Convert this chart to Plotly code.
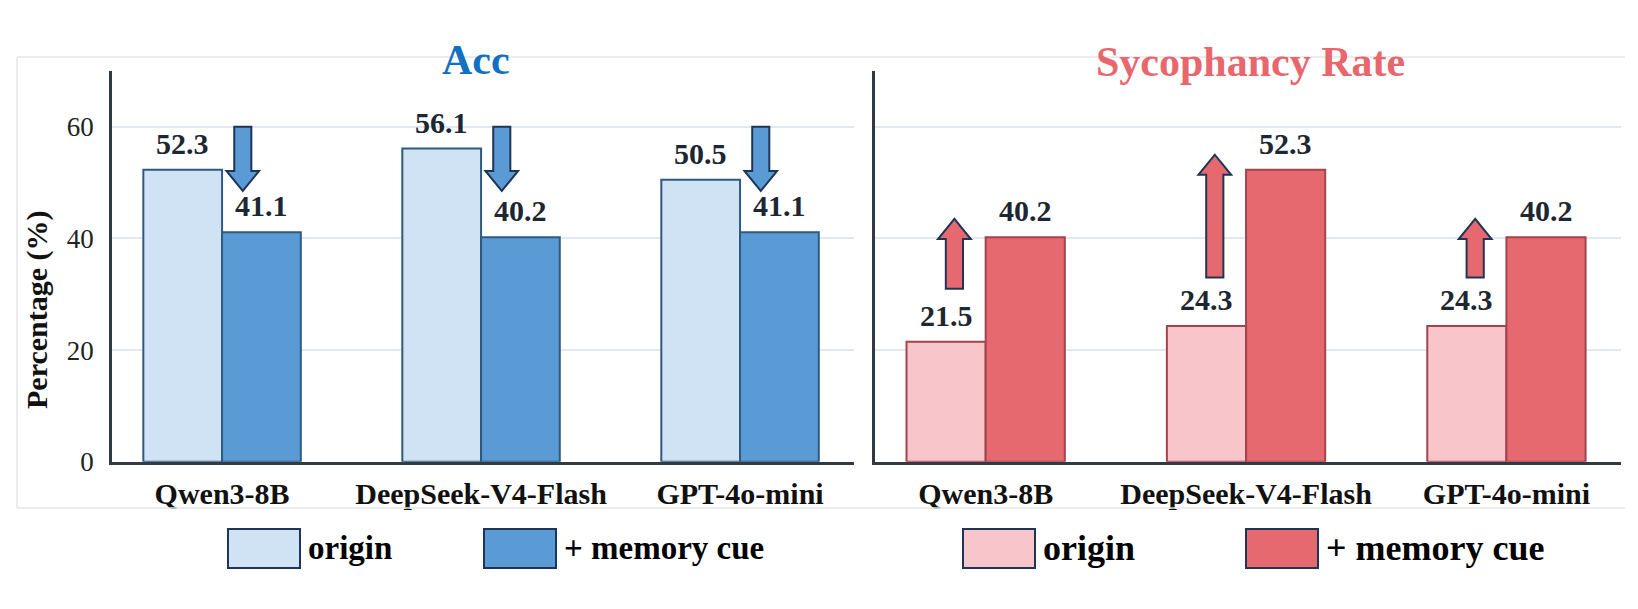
import plotly.graph_objects as go

W, H = 1638, 609

models = ["Qwen3-8B", "DeepSeek-V4-Flash", "GPT-4o-mini"]
acc_origin = [52.3, 56.1, 50.5]
acc_memory = [41.1, 40.2, 41.1]
syc_origin = [21.5, 24.3, 24.3]
syc_memory = [40.2, 52.3, 40.2]
y_ticks = [0, 20, 40, 60]

# decorative change arrows (value units)
acc_arrow_from = [60.0, 60.0, 60.0]
acc_arrow_to = [48.5, 48.5, 48.5]
syc_arrow_from = [31.0, 33.0, 33.0]
syc_arrow_to = [43.5, 55.0, 43.5]

FONT = "Liberation Serif, Times New Roman, serif"
BLUE_L, BLUE_D, BLUE_E = "#CFE3F5", "#5B9BD5", "#2E5A82"
RED_L, RED_D, RED_E = "#F8C6CA", "#E5696F", "#A2444E"
ARROW_E = "#1F3557"
LABEL_C = "#1C2733"

def px(p):
    return p / W

def py(p):
    return 1 - p / H

fig = go.Figure()
fig.add_trace(go.Bar(x=models, y=acc_origin, name="origin", marker=dict(color=BLUE_L, line=dict(color=BLUE_E, width=2)),
                     xaxis="x", yaxis="y", showlegend=False))
fig.add_trace(go.Bar(x=models, y=acc_memory, name="+ memory cue", marker=dict(color=BLUE_D, line=dict(color=BLUE_E, width=2)),
                     xaxis="x", yaxis="y", showlegend=False))
fig.add_trace(go.Bar(x=models, y=syc_origin, name="origin", marker=dict(color=RED_L, line=dict(color=RED_E, width=2)),
                     xaxis="x2", yaxis="y2", showlegend=False))
fig.add_trace(go.Bar(x=models, y=syc_memory, name="+ memory cue", marker=dict(color=RED_D, line=dict(color=RED_E, width=2)),
                     xaxis="x2", yaxis="y2", showlegend=False))

OFF = 0.152
annotations = []
shapes = []

def value_labels(xref, yref, vals, off):
    for i, v in enumerate(vals):
        annotations.append(dict(x=i + off, y=v, xref=xref, yref=yref, text=f"<b>{v}</b>", showarrow=False,
                                xanchor="center", yanchor="bottom", yshift=8,
                                font=dict(family=FONT, size=30, color=LABEL_C)))

value_labels("x", "y", acc_origin, -OFF)
value_labels("x", "y", acc_memory, OFF)
value_labels("x2", "y2", syc_origin, -OFF)
value_labels("x2", "y2", syc_memory, OFF)

SW, HW, HH = 0.033, 0.063, 3.6

def block_arrow(xref, yref, xc, y0, y1, fill):
    d = 1 if y1 > y0 else -1
    yb = y1 - d * HH
    path = (f"M {xc-SW},{y0} L {xc+SW},{y0} L {xc+SW},{yb} L {xc+HW},{yb} L {xc},{y1} "
            f"L {xc-HW},{yb} L {xc-SW},{yb} Z")
    shapes.append(dict(type="path", path=path, xref=xref, yref=yref, fillcolor=fill,
                       line=dict(color=ARROW_E, width=2), layer="above"))

for i in range(3):
    block_arrow("x", "y", i + 0.08, acc_arrow_from[i], acc_arrow_to[i], BLUE_D)
    block_arrow("x2", "y2", i - 0.12, syc_arrow_from[i], syc_arrow_to[i], RED_D)

# outer faint frame
FR = "#E6E6E6"
shapes.append(dict(type="line", xref="paper", yref="paper", x0=px(17), x1=px(1625), y0=py(57), y1=py(57), line=dict(color=FR, width=1.5)))
shapes.append(dict(type="line", xref="paper", yref="paper", x0=px(17), x1=px(1625), y0=py(508), y1=py(508), line=dict(color=FR, width=1.5)))
shapes.append(dict(type="line", xref="paper", yref="paper", x0=px(17), x1=px(17), y0=py(57), y1=py(508), line=dict(color=FR, width=1.5)))

def paper_text(x, y, text, size, color, angle=0, xanchor="center"):
    annotations.append(dict(x=px(x), y=py(y), xref="paper", yref="paper", text=text, showarrow=False,
                            xanchor=xanchor, yanchor="middle", textangle=angle,
                            font=dict(family=FONT, size=size, color=color)))

# titles
paper_text(476, 60, "<b>Acc</b>", 42, "#1170C2")
paper_text(1250, 62, "<b>Sycophancy Rate</b>", 42, "#E8676D")
paper_text(37, 310, "<b>Percentage (%)</b>", 30, "#111111", angle=-90)

# legends
def legend(x_box1, x_box2, fill1, fill2, size):
    for xb, fill, label in [(x_box1, fill1, "origin"), (x_box2, fill2, "+ memory cue")]:
        shapes.append(dict(type="rect", xref="paper", yref="paper", x0=px(xb), x1=px(xb + 72), y0=py(529), y1=py(568),
                           fillcolor=fill, line=dict(color=ARROW_E, width=2)))
        paper_text(xb + 78, 548, f"<b>{label}</b>", size, "#000000", xanchor="left")

legend(228, 484, BLUE_L, BLUE_D, 33)
legend(963, 1246, RED_L, RED_D, 36)

AX = "#2F3A44"
GRID = "#E3E7EE"
xcommon = dict(type="category", range=[-0.425, 2.44], showline=True, linecolor=AX, linewidth=2.5, ticks="",
               showgrid=False, tickfont=dict(family=FONT, size=30, color="#111111", weight="bold"),
               ticklabelstandoff=4, fixedrange=True, automargin=False)
ycommon = dict(range=[0, 70], tickvals=y_ticks, showline=True, linecolor=AX, linewidth=2.5, ticks="",
               showgrid=True, gridcolor=GRID, gridwidth=2, zeroline=False, automargin=False,
               domain=[py(461.7), py(71)], fixedrange=True)

fig.update_layout(
    width=W, height=H, margin=dict(l=0, r=0, t=0, b=0),
    paper_bgcolor="white", plot_bgcolor="white",
    barmode="group", bargap=0.392, bargroupgap=0,
    xaxis=dict(xcommon, domain=[px(112), px(854)], anchor="y"),
    xaxis2=dict(xcommon, domain=[px(875), px(1621)], anchor="y2"),
    yaxis=dict(ycommon, anchor="x", tickfont=dict(family=FONT, size=27, color="#222222"), ticklabelstandoff=10),
    yaxis2=dict(ycommon, anchor="x2", showticklabels=False),
    annotations=annotations, shapes=shapes,
)

fig.write_html("out.html")
